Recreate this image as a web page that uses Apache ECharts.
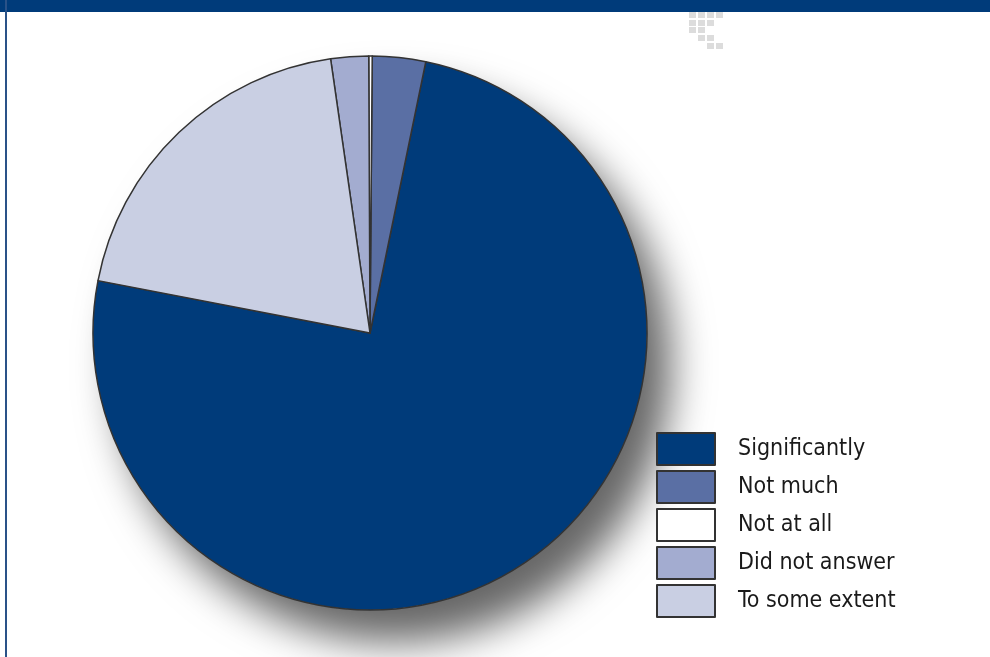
<!DOCTYPE html>
<html>
<head>
<meta charset="utf-8">
<script src="https://cdn.jsdelivr.net/npm/echarts@6/dist/echarts.min.js"></script>
<style>
  html, body { margin: 0; padding: 0; background: #fff; }
  #chart { width: 990px; height: 657px; }
</style>
</head>
<body>
<div id="chart"></div>
<script>
// categories in legend order (drawn counter-clockwise)
const categories = ["Significantly", "Not much", "Not at all", "Did not answer", "To some extent"];
const values = [74.8, 3.1, 0.2, 2.2, 19.7];
const colors = ["#003b7a", "#5a6fa4", "#ffffff", "#a3acd0", "#c9cfe3"];

const myChart = echarts.init(document.getElementById("chart"));

// small grey squares in the top corner
const dots = [
  [689, 12], [698, 12], [707, 12], [716, 12],
  [689, 20], [698, 20], [707, 20],
  [689, 27], [698, 27],
  [698, 35], [707, 35],
  [707, 43], [716, 43],
];

const config = {
  backgroundColor: "#ffffff",
  animation: false,
  legend: {
    orient: "vertical",
    left: 656,
    top: 432,
    padding: 0,
    itemWidth: 58,
    itemHeight: 32,
    itemGap: 4,
    icon: "rect",
    data: categories,
    textStyle: {
      fontFamily: "DejaVu Sans Condensed, sans-serif",
      fontSize: 23,
      lineHeight: 32,
      color: "#1a1a1a",
      padding: [0, 0, 0, 18],
    },
  },
  graphic: [
    { type: "rect", shape: { x: 0, y: 0, width: 990, height: 12 }, style: { fill: "#003b7a" }, z: 10 },
    { type: "rect", shape: { x: 5, y: 0, width: 2, height: 657 }, style: { fill: "#2a5288" }, z: 10 },
  ].concat(dots.map((d) => ({
    type: "rect",
    shape: { x: d[0], y: d[1], width: 7, height: 6 },
    style: { fill: "#dcdcdc" },
    z: 10,
  }))),
  series: [
    {
      // shadow disc behind the pie
      type: "pie",
      silent: true,
      center: [370, 333],
      radius: 277,
      label: { show: false },
      labelLine: { show: false },
      data: [{ value: 1, name: "_shadow" }],
      itemStyle: {
        color: "#ffffff",
        shadowColor: "rgba(0,0,0,0.6)",
        shadowBlur: 40,
        shadowOffsetX: 24,
        shadowOffsetY: 32,
      },
      z: 1,
    },
    {
      type: "pie",
      center: [370, 333],
      radius: 277,
      startAngle: 169.1,
      clockwise: false,
      label: { show: false },
      labelLine: { show: false },
      emphasis: { disabled: true },
      itemStyle: {
        borderColor: "#333333",
        borderWidth: 1.5,
      },
      data: categories.map((name, i) => ({
        name: name,
        value: values[i],
        itemStyle: { color: colors[i] },
      })),
      z: 2,
    },
  ],
};

myChart.setOption(config);
</script>
</body>
</html>
